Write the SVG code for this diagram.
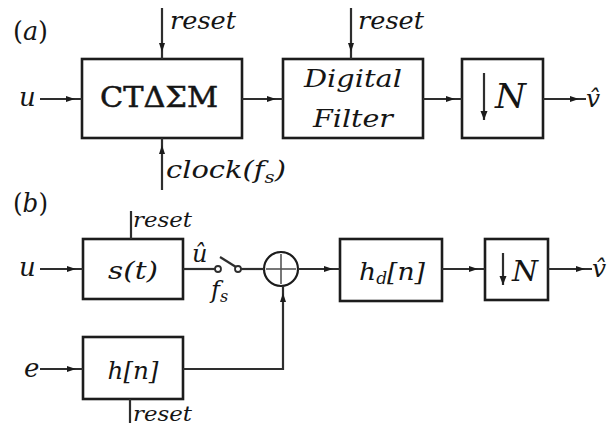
<svg xmlns="http://www.w3.org/2000/svg" width="607" height="430" viewBox="0 0 607 430">
  <style>
    .box { fill: #ffffff; stroke: #1c1c1c; stroke-width: 2.6; }
    .wire { fill: none; stroke: #2e2e2e; stroke-width: 2.2; }
    .arr { fill: none; stroke: #2e2e2e; stroke-width: 2.2; marker-end: url(#ah); }
    .t { font-family: "DejaVu Serif", "Liberation Serif", serif; fill: #151515; }
    .i { font-style: italic; }
    .ctr { text-anchor: middle; }
  </style>
  <defs>
    <!-- small filled head, tip set a few px short of the line end -->
    <marker id="ah" viewBox="0 0 10 8" markerWidth="10" markerHeight="8" refX="16" refY="4" markerUnits="userSpaceOnUse" orient="auto">
      <path d="M0,1 L9,4 L0,7 Z" fill="#1c1c1c"/>
    </marker>
    <marker id="ahd" viewBox="0 0 10 8" markerWidth="10" markerHeight="8" refX="9" refY="4" markerUnits="userSpaceOnUse" orient="auto">
      <path d="M0,0.5 L9,4 L0,7.5 Z" fill="#1c1c1c"/>
    </marker>
  </defs>

  <!-- panel labels -->
  <text class="t" x="13" y="40" font-size="26" textLength="35" lengthAdjust="spacingAndGlyphs">(<tspan class="i">a</tspan>)</text>
  <text class="t" x="13" y="212" font-size="26" textLength="35" lengthAdjust="spacingAndGlyphs">(<tspan class="i">b</tspan>)</text>

  <!-- ===== (a) ===== -->
  <g id="in-u-a"><text class="t i" x="19" y="106" font-size="26">u</text></g>

  <g id="ctdsm">
    <rect class="box" x="82" y="59" width="160" height="79"/>
    <text class="t ctr" x="159" y="107" font-size="27" stroke="#151515" stroke-width="0.5" textLength="118" lengthAdjust="spacingAndGlyphs">CTΔΣM</text>
  </g>
  <g id="reset-a1"><text class="t i" x="170" y="29" font-size="25" textLength="66" lengthAdjust="spacingAndGlyphs">reset</text></g>
  <g id="clock"><text class="t i" x="166" y="178" font-size="25" textLength="120" lengthAdjust="spacingAndGlyphs">clock(f<tspan font-size="17" dy="5">s</tspan><tspan dy="-5">)</tspan></text></g>

  <g id="digital-filter">
    <rect class="box" x="283" y="59" width="140" height="79"/>
    <text class="t i ctr" x="353" y="87" font-size="24" textLength="98" lengthAdjust="spacingAndGlyphs">Digital</text>
    <text class="t i ctr" x="353" y="127" font-size="24" textLength="80" lengthAdjust="spacingAndGlyphs">Filter</text>
  </g>
  <g id="reset-a2"><text class="t i" x="358" y="29" font-size="25" textLength="66" lengthAdjust="spacingAndGlyphs">reset</text></g>

  <g id="decim-a">
    <rect class="box" x="462" y="59" width="81" height="79"/>
    <line class="wire" x1="484" y1="73" x2="484" y2="120" marker-end="url(#ahd)"/>
    <text class="t i" x="495" y="108" font-size="34" textLength="31" lengthAdjust="spacingAndGlyphs">N</text>
  </g>
  <g id="out-a"><text class="t i" x="586" y="107" font-size="25">v&#770;</text></g>

  <!-- ===== (b) ===== -->
  <g id="in-u-b"><text class="t i" x="19" y="276" font-size="26">u</text></g>
  <g id="in-e"><text class="t i" x="24" y="377" font-size="26">e</text></g>

  <g id="s-block">
    <rect class="box" x="83" y="239" width="100" height="60"/>
    <text class="t i ctr" x="133" y="279" font-size="25" textLength="50" lengthAdjust="spacingAndGlyphs">s(t)</text>
  </g>
  <g id="reset-b1"><text class="t i" x="133" y="227" font-size="20" textLength="59" lengthAdjust="spacingAndGlyphs">reset</text></g>

  <g id="h-block">
    <rect class="box" x="83" y="337" width="100" height="62"/>
    <text class="t i ctr" x="133" y="379" font-size="25" textLength="51" lengthAdjust="spacingAndGlyphs">h[n]</text>
  </g>
  <g id="reset-b2"><text class="t i" x="133" y="421" font-size="20" textLength="59" lengthAdjust="spacingAndGlyphs">reset</text></g>

  <g id="sampler">
    <circle cx="218" cy="269" r="3" fill="#fff" stroke="#2e2e2e" stroke-width="1.8"/>
    <circle cx="238" cy="269" r="3" fill="#fff" stroke="#2e2e2e" stroke-width="1.8"/>
    <line class="wire" x1="220" y1="257" x2="236" y2="267"/>
    <text class="t i" x="192" y="262" font-size="24">u&#770;</text>
    <text class="t i" x="211" y="298" font-size="24">f<tspan font-size="16" dy="4">s</tspan></text>
  </g>

  <g id="summer">
    <circle cx="281" cy="269" r="17" fill="#fff" stroke="#1c1c1c" stroke-width="2.2"/>
    <line x1="281" y1="254" x2="281" y2="284" stroke="#555" stroke-width="1.6"/>
    <line x1="266" y1="269" x2="296" y2="269" stroke="#555" stroke-width="1.6"/>
  </g>

  <g id="hd-block">
    <rect class="box" x="340" y="239" width="102" height="62"/>
    <text class="t i ctr" x="392" y="280" font-size="25" textLength="66" lengthAdjust="spacingAndGlyphs">h<tspan font-size="16" dy="4">d</tspan><tspan dy="-4">[n]</tspan></text>
  </g>

  <g id="decim-b">
    <rect class="box" x="485" y="239" width="63" height="61"/>
    <line class="wire" x1="503" y1="253" x2="503" y2="285" marker-end="url(#ahd)"/>
    <text class="t i" x="512" y="281" font-size="27" textLength="26" lengthAdjust="spacingAndGlyphs">N</text>
  </g>
  <g id="out-b"><text class="t i" x="592" y="277" font-size="25">v&#770;</text></g>

  <!-- connectors -->
  <g id="connectors">
    <line class="arr" x1="40" y1="99" x2="82" y2="99"/>
    <line class="arr" x1="162" y1="8" x2="162" y2="59"/>
    <line class="arr" x1="162" y1="190" x2="162" y2="138"/>
    <line class="arr" x1="242" y1="99" x2="283" y2="99"/>
    <line class="arr" x1="351" y1="8" x2="351" y2="59"/>
    <line class="arr" x1="423" y1="99" x2="462" y2="99"/>
    <line class="arr" x1="543" y1="99" x2="586" y2="99"/>

    <line class="arr" x1="40" y1="269" x2="83" y2="269"/>
    <line class="wire" x1="131" y1="211" x2="131" y2="239"/>
    <line class="wire" x1="183" y1="269" x2="215" y2="269"/>
    <line class="wire" x1="241" y1="269" x2="264" y2="269"/>
    <line class="arr" x1="298" y1="269" x2="340" y2="269"/>
    <line class="arr" x1="442" y1="269" x2="485" y2="269"/>
    <line class="arr" x1="548" y1="269" x2="592" y2="269"/>

    <line class="arr" x1="40" y1="369" x2="83" y2="369"/>
    <polyline class="arr" points="183,369 283,369 283,286"/>
    <line class="wire" x1="130" y1="399" x2="130" y2="423"/>
  </g>
</svg>
